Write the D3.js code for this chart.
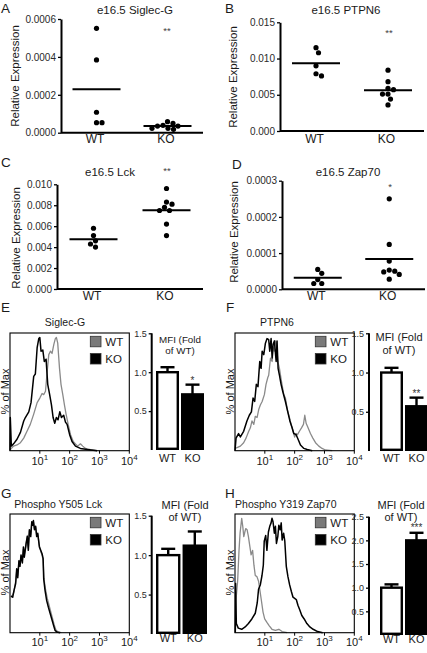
<!DOCTYPE html>
<html><head><meta charset="utf-8">
<script src="https://cdn.jsdelivr.net/npm/d3@7"></script>
<style>
html,body{margin:0;padding:0;background:#fff;}
svg{display:block;font-family:"Liberation Sans",Arial,Helvetica,sans-serif;}
</style></head><body>
<svg id="fig" width="427" height="653"></svg>
<script>
// ================= DATA =================
const groups = ["WT", "KO"];
// Panels A-D: relative expression (dot plots)
const sigWT = [0.000551, 0.000384, 0.000108, 0.000053, 0.000053];
const sigKO = [0.000058, 0.000049, 0.000039, 0.000035, 0.000035, 0.000023, 0.000023, 0.000018];
const ptpWT = [0.0115, 0.0108, 0.0090, 0.0079, 0.0076];
const ptpKO = [0.0084, 0.0068, 0.0059, 0.0057, 0.0051, 0.0051, 0.0044, 0.0036];
const lckWT = [0.0058, 0.0051, 0.0046, 0.0043, 0.0040];
const lckKO = [0.0096, 0.0083, 0.0081, 0.0078, 0.0075, 0.0075, 0.0062, 0.0051];
const zapWT = [0.000055, 0.000044, 0.000027, 0.000016, 0.000016];
const zapKO = [0.00025, 0.000124, 0.000078, 0.000053, 0.00005, 0.000048, 0.000041, 0.000028];
const sigTicks = [0, 0.0002, 0.0004, 0.0006];
const ptpTicks = [0, 0.005, 0.010, 0.015];
const lckTicks = [0, 0.002, 0.004, 0.006, 0.008, 0.010];
const zapTicks = [0, 0.0001, 0.0002, 0.0003];
const scatterTitles = ["e16.5 Siglec-G", "e16.5 PTPN6", "e16.5 Lck", "e16.5 Zap70"];
const scatterStars = ["**", "**", "**", "*"];
const panelLetters = ["A", "B", "C", "D", "E", "F", "G", "H"];

// Panels E-H: MFI (fold of WT) bars, mean and error
const mfiE = [1.0, 0.715], errE = [0.064, 0.125];
const mfiF = [1.0, 0.57],  errF = [0.06, 0.11];
const mfiG = [1.0, 1.12],  errG = [0.08, 0.18];
const mfiH = [1.0, 2.0],   errH = [0.07, 0.16];
const mfiTicks15 = [0.5, 1.0, 1.5];
const mfiTicks25 = [0.5, 1.0, 1.5, 2.0, 2.5];
const mfiStars = ["*", "**", "", "***"];
const histTitles = ["Siglec-G", "PTPN6", "Phospho Y505 Lck", "Phospho Y319 Zap70"];
const decadeTicks = [1, 2, 3, 4];

// Histograms: [log10 fluorescence, % of max]
const histE_KO = [[0,0],[0.01,29],[0.045,4],[0.12,6],[0.235,10],[0.35,16],[0.46,26],[0.515,29],[0.63,34],[0.705,42],[0.795,65],[0.85,67],[0.91,90],[0.965,98],[1.0,99],[1.04,87],[1.10,88],[1.15,78],[1.21,80],[1.265,58],[1.33,49],[1.39,40],[1.445,29],[1.50,24],[1.555,29],[1.61,27],[1.67,34],[1.725,29],[1.80,31],[1.86,25],[1.915,23],[2.0,14],[2.08,8],[2.195,4],[2.36,2],[2.59,1],[2.92,0]];
const histE_WT = [[0.01,1],[0.12,4],[0.235,5],[0.35,7],[0.46,11],[0.57,17],[0.68,23],[0.795,32],[0.91,42],[1.0,46],[1.075,50],[1.13,49],[1.19,52],[1.24,67],[1.30,84],[1.355,87],[1.41,85],[1.47,93],[1.52,98],[1.555,99],[1.60,94],[1.66,72],[1.71,58],[1.77,49],[1.825,40],[1.88,32],[1.95,23],[2.03,14],[2.12,8],[2.195,6],[2.27,4],[2.36,6],[2.44,4],[2.53,2],[2.70,1],[2.92,0]];
const histF_KO = [[0,0],[0.035,11],[0.12,15],[0.18,12],[0.29,17],[0.40,26],[0.48,31],[0.55,34],[0.605,46],[0.66,43],[0.715,58],[0.77,56],[0.83,78],[0.875,72],[0.91,87],[0.965,84],[1.02,94],[1.075,98],[1.13,97],[1.165,87],[1.21,98],[1.245,81],[1.28,93],[1.32,96],[1.38,78],[1.41,96],[1.445,72],[1.49,66],[1.545,58],[1.60,52],[1.69,43],[1.77,34],[1.84,26],[1.915,20],[1.97,15],[2.05,14],[2.115,10],[2.195,5],[2.31,2],[2.42,1],[2.59,0]];
const histF_WT = [[0.01,2],[0.18,4],[0.29,7],[0.37,11],[0.46,17],[0.515,20],[0.57,26],[0.63,23],[0.68,30],[0.74,29],[0.795,36],[0.85,40],[0.91,43],[0.985,49],[1.04,58],[1.10,64],[1.13,66],[1.19,81],[1.245,78],[1.28,90],[1.32,87],[1.355,96],[1.39,94],[1.435,78],[1.49,72],[1.555,61],[1.635,49],[1.69,46],[1.77,34],[1.825,29],[1.88,23],[1.95,17],[2.0,12],[2.05,15],[2.095,14],[2.16,17],[2.23,20],[2.295,23],[2.34,31],[2.385,24],[2.45,20],[2.53,15],[2.61,11],[2.70,7],[2.81,4],[2.92,2],[3.03,0.6],[3.26,0]];
const histG_KO = [[0.035,32],[0.09,31],[0.135,37],[0.19,43],[0.225,56],[0.26,48],[0.30,63],[0.335,58],[0.37,68],[0.415,61],[0.45,75],[0.48,66],[0.54,78],[0.58,84],[0.615,72],[0.65,90],[0.695,84],[0.73,97],[0.76,94],[0.785,98],[0.82,90],[0.86,93],[0.895,84],[0.93,87],[0.985,75],[1.03,72],[1.075,69],[1.11,65],[1.13,47],[1.175,37],[1.23,28],[1.29,22],[1.345,17],[1.40,12],[1.455,7],[1.51,2],[1.57,0.6],[1.68,0]];
const histG_WT = [[0.035,31],[0.09,33],[0.135,36],[0.19,45],[0.225,54],[0.26,50],[0.30,62],[0.335,60],[0.37,67],[0.415,63],[0.45,73],[0.48,68],[0.54,77],[0.58,85],[0.615,74],[0.65,89],[0.695,86],[0.73,96],[0.76,95],[0.785,97],[0.82,91],[0.86,92],[0.895,85],[0.93,86],[0.985,76],[1.03,71],[1.075,68],[1.11,63],[1.14,47],[1.19,38],[1.25,30],[1.31,24],[1.37,18],[1.43,12],[1.48,7],[1.54,2.5],[1.60,0.8],[1.72,0]];
const histH_WT = [[0.01,0],[0.034,29],[0.09,46],[0.135,72],[0.17,87],[0.225,100],[0.26,93],[0.295,84],[0.33,88],[0.36,91],[0.405,90],[0.45,84],[0.50,75],[0.54,68],[0.59,72],[0.635,59],[0.68,50],[0.735,49],[0.79,45],[0.835,37],[0.88,29],[0.94,18],[0.995,12],[1.07,9],[1.15,6],[1.24,3],[1.355,2],[1.47,3],[1.58,1],[1.75,0]];
const histH_KO = [[0.01,0],[0.02,43],[0.045,8],[0.11,4],[0.225,3],[0.34,5],[0.45,8],[0.565,12],[0.68,17],[0.745,26],[0.79,38],[0.85,42],[0.905,50],[0.95,59],[0.98,80],[1.03,85],[1.07,72],[1.12,88],[1.165,93],[1.21,96],[1.24,100],[1.275,97],[1.32,87],[1.355,93],[1.39,78],[1.435,84],[1.47,94],[1.515,90],[1.55,96],[1.58,81],[1.63,87],[1.67,80],[1.72,58],[1.775,49],[1.83,42],[1.89,36],[1.945,31],[2.0,30],[2.055,29],[2.11,24],[2.17,20],[2.24,15],[2.32,12],[2.41,8],[2.51,5],[2.62,3],[2.77,1],[2.94,0]];

// ================= DRAWING =================
const svg = d3.select("#fig");
const FONT = "'Liberation Sans',Arial,sans-serif";
const TXT = "#1a1a1a";

function txt(g, x, y, s, size, anchor, opts = {}) {
  const t = g.append("text").attr("x", x).attr("y", y).text(s)
    .attr("font-size", size).attr("fill", opts.fill || TXT)
    .attr("text-anchor", anchor || "middle");
  if (opts.rotate) t.attr("transform", `rotate(-90,${x},${y})`);
  return t;
}

// ----- dot plots -----
const scatterLayout = [
  {vals:[sigWT,sigKO], ticks:sigTicks, fmt:".4f", ax:61,  xr:[61,203],  yr:[132.7,19],  title:[135,14],  ylab:[18.5,76], letter:[1,13],   star:[167,34], xlab:143},
  {vals:[ptpWT,ptpKO], ticks:ptpTicks, fmt:".3f", ax:280, xr:[280,424], yr:[131,22.3],  title:[346,14],  ylab:[236.5,77],letter:[225,12.5], star:[389,36], xlab:143},
  {vals:[lckWT,lckKO], ticks:lckTicks, fmt:".3f", ax:57,  xr:[57,203],  yr:[289,184.3], title:[110,176], ylab:[20,238],  letter:[1,167],  star:[167,173.5],  xlab:300},
  {vals:[zapWT,zapKO], ticks:zapTicks, fmt:".4f", ax:282, xr:[282,425], yr:[289.3,180.7],title:[348,176],ylab:[238,232], letter:[232,169], star:[390,189.5], xlab:300}
];

function swarm(values, y, cx, r) {
  const placed = [];
  const d = 2 * r + 0.3;
  values.map((v, i) => ({v, i})).sort((a, b) => b.v - a.v).forEach(o => {
    const py = y(o.v);
    let px = cx;
    for (let k = 0; k < 400; k++) {
      const off = (k % 2 === 1 ? 1 : -1) * Math.ceil(k / 2) * 0.5;
      const cand = cx + off;
      if (placed.every(p => Math.hypot(p.x - cand, p.y - py) >= d)) { px = cand; break; }
    }
    placed.push({x: px, y: py});
  });
  return placed;
}

scatterLayout.forEach((L, pi) => {
  const g = svg.append("g");
  const y = d3.scaleLinear().domain([0, d3.max(L.ticks)]).range(L.yr);
  const x = d3.scalePoint().domain(groups).range(L.xr).padding(0.5);
  const ya = g.append("g").attr("transform", `translate(${L.ax},0)`)
    .call(d3.axisLeft(y).tickValues(L.ticks).tickFormat(d3.format(L.fmt)).tickSize(3).tickSizeOuter(0).tickPadding(2));
  ya.select(".domain").attr("stroke", "#000").attr("stroke-width", 2);
  ya.selectAll(".tick line").attr("stroke", "#000").attr("stroke-width", 1.3);
  ya.selectAll(".tick text").attr("font-size", 10).attr("fill", "#2a2a2a").attr("font-family", FONT);
  const xa = g.append("g").attr("transform", `translate(0,${L.yr[0]})`)
    .call(d3.axisBottom(x).tickSize(0).tickPadding(L.xlab - L.yr[0] - 8.5));
  xa.select(".domain").attr("d", `M${L.xr[0]},0H${L.xr[1]}`).attr("stroke", "#000").attr("stroke-width", 2);
  xa.selectAll(".tick text").attr("font-size", 12).attr("fill", TXT).attr("font-family", FONT).attr("dx", -2);
  groups.forEach((grp, gi) => {
    const vals = L.vals[gi];
    const cx = x(grp);
    swarm(vals, y, cx, 2.6).forEach(p => {
      g.append("circle").attr("cx", p.x).attr("cy", p.y).attr("r", 2.6).attr("fill", "#000");
    });
    const m = d3.mean(vals);
    g.append("line").attr("x1", cx - 24).attr("x2", cx + 24).attr("y1", y(m)).attr("y2", y(m))
      .attr("stroke", "#000").attr("stroke-width", 2);
  });
  txt(g, L.title[0], L.title[1], scatterTitles[pi], 11.5, "middle");
  txt(g, L.ylab[0], L.ylab[1], "Relative Expression", 11.5, "middle", {rotate: true});
  txt(g, L.letter[0], L.letter[1], panelLetters[pi], 13.5, "start");
  txt(g, L.star[0], L.star[1], scatterStars[pi], 9.5, "middle", {fill: "#444"});
});

// ----- histograms -----
const histLayout = [
  {curves:[histE_WT, histE_KO], fx:[10,129.3],  fy:[333,450.7], top100:336.3, title:[65,326],   letter:[1,311.5],   ylab:[8.5,391.5], tickLab:464.5},
  {curves:[histF_WT, histF_KO], fx:[235,354.3], fy:[333,450.7], top100:336.3, title:[277,326],  letter:[226,311.5], ylab:[233.5,391.5], tickLab:464.5},
  {curves:[histG_WT, histG_KO], fx:[10,129.3],  fy:[514,632.7], top100:518.3, title:[58.3,508], letter:[1,498],     ylab:[8.5,572.5], tickLab:646},
  {curves:[histH_WT, histH_KO], fx:[235,354.3], fy:[514,632.7], top100:518.3, title:[285.8,508],letter:[225,498],   ylab:[233.5,572.5], tickLab:646}
];
const histColors = ["#8a8a8a", "#000"];

histLayout.forEach((L, pi) => {
  const g = svg.append("g");
  const x = d3.scaleLog().domain([1, 1e4]).range(L.fx);
  const y = d3.scaleLinear().domain([0, 100]).range([L.fy[1], L.top100]);
  const line = d3.line().x(d => x(Math.pow(10, d[0]))).y(d => y(d[1]));
  L.curves.forEach((c, ci) => {
    g.append("path").attr("d", line(c)).attr("fill", "none")
      .attr("stroke", histColors[ci]).attr("stroke-width", ci === 0 ? 1.3 : 1.5).attr("stroke-linejoin", "round");
  });
  g.append("rect").attr("x", L.fx[0]).attr("y", L.fy[0]).attr("width", L.fx[1] - L.fx[0]).attr("height", L.fy[1] - L.fy[0])
    .attr("fill", "none").attr("stroke", "#000").attr("stroke-width", 1.1);
  decadeTicks.forEach(k => {
    const tx = x(Math.pow(10, k));
    g.append("line").attr("x1", tx).attr("x2", tx).attr("y1", L.fy[1]).attr("y2", L.fy[1] + 3).attr("stroke", "#000").attr("stroke-width", 1);
    const t = g.append("text").attr("x", tx).attr("y", L.tickLab).attr("text-anchor", "middle")
      .attr("font-size", 11).attr("fill", TXT);
    t.append("tspan").text("10");
    t.append("tspan").text(String(k)).attr("font-size", 8).attr("dy", -5);
  });
  const lx = L.fx[1] - 39;
  [["WT", "#7a7a7a"], ["KO", "#000"]].forEach((d, i) => {
    const ly = L.fy[0] + 3.3 + i * 17.2;
    g.append("rect").attr("x", lx).attr("y", ly).attr("width", 10.7).attr("height", 10.5)
      .attr("fill", d[1]).attr("stroke", "#333").attr("stroke-width", 0.8);
    txt(g, lx + 15, ly + 9.5, d[0], 11.5, "start");
  });
  txt(g, L.title[0], L.title[1], histTitles[pi], 10.5, "middle");
  txt(g, L.ylab[0], L.ylab[1], "% of Max", 11, "middle", {rotate: true});
  txt(g, L.letter[0], L.letter[1], panelLetters[pi + 4], 13.5, "start");
});

// ----- MFI bar charts -----
const barLayout = [
  {vals:mfiE, errs:errE, ticks:mfiTicks15, ax:151.7, bx:[156,204], yr:[450,333.3], mfi:[180,343,354], mfiSize:9.8, xlab:462, star:383.5},
  {vals:mfiF, errs:errF, ticks:mfiTicks15, ax:369,   bx:[380,428], yr:[451,333.3], mfi:[399,341,354], mfiSize:11, xlab:462, star:397},
  {vals:mfiG, errs:errG, ticks:mfiTicks15, ax:151.7, bx:[156,207], yr:[634,515.7], mfi:[185,509,521], mfiSize:11, xlab:642, star:0},
  {vals:mfiH, errs:errH, ticks:mfiTicks25, ax:369,   bx:[380,428], yr:[635,516.7], mfi:[401,509,521], mfiSize:11, xlab:643, star:530.5}
];

barLayout.forEach((L, pi) => {
  const g = svg.append("g");
  const y = d3.scaleLinear().domain([0, d3.max(L.ticks)]).range(L.yr);
  const x = d3.scaleBand().domain(groups).range(L.bx).paddingInner(0.08).paddingOuter(0);
  const ya = g.append("g").attr("transform", `translate(${L.ax},0)`)
    .call(d3.axisLeft(y).tickValues(L.ticks).tickFormat(d3.format(".1f")).tickSize(3).tickSizeOuter(0).tickPadding(2));
  ya.select(".domain").attr("d", `M0,${y(0)}V${y(d3.max(L.ticks))}`).attr("stroke", "#000").attr("stroke-width", 2);
  ya.selectAll(".tick line").attr("stroke", "#000").attr("stroke-width", 1.3);
  ya.selectAll(".tick text").attr("font-size", 9).attr("fill", "#2a2a2a").attr("font-family", FONT);
  groups.forEach((grp, gi) => {
    const v = L.vals[gi], e = L.errs[gi];
    const bx = x(grp), bw = x.bandwidth(), cx = bx + bw / 2;
    g.append("line").attr("x1", cx).attr("x2", cx).attr("y1", y(v)).attr("y2", y(v + e)).attr("stroke", "#000").attr("stroke-width", 2.4);
    g.append("line").attr("x1", cx - 7).attr("x2", cx + 7).attr("y1", y(v + e)).attr("y2", y(v + e)).attr("stroke", "#000").attr("stroke-width", 2.4);
    g.append("rect").attr("x", bx + 1.2).attr("y", y(v)).attr("width", bw - 2.4).attr("height", y(0) - y(v) - 1.2)
      .attr("fill", gi === 0 ? "#fff" : "#000").attr("stroke", "#000").attr("stroke-width", 2.4);
    txt(g, cx, L.xlab, grp, 11, "middle");
  });
  if (mfiStars[pi]) txt(g, x("KO") + x.bandwidth() / 2, L.star, mfiStars[pi], 10, "middle", {fill: "#333"});
  txt(g, L.mfi[0], L.mfi[1], "MFI (Fold", L.mfiSize, "middle");
  txt(g, L.mfi[0], L.mfi[2], "of WT)", L.mfiSize, "middle");
});
</script>
</body></html>
